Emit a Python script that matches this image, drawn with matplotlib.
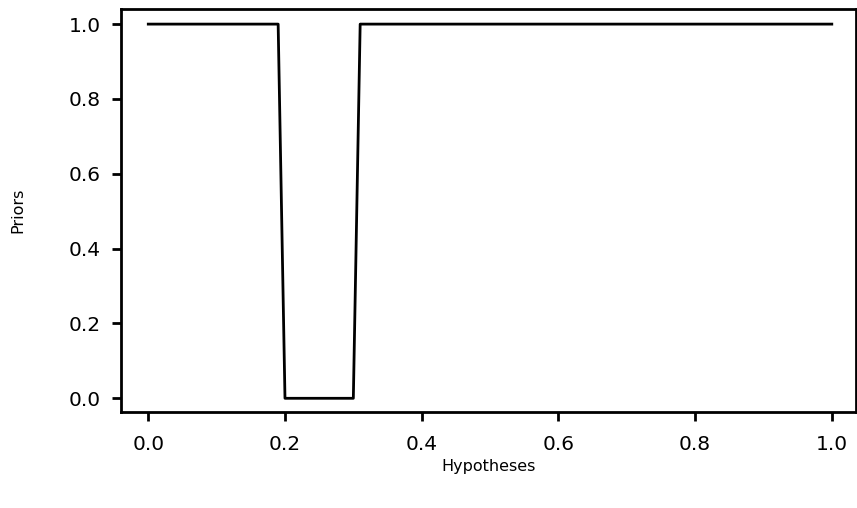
import matplotlib
matplotlib.use("Agg")
import matplotlib.pyplot as plt

# hypotheses grid (0.00 .. 1.00 in steps of 0.01); prior is flat except 0.20-0.30 set to zero
hypotheses = [0.0, 0.19, 0.20, 0.30, 0.31, 1.0]
priors = [1.0, 1.0, 0.0, 0.0, 1.0, 1.0]

plt.rcParams["font.family"] = ["DejaVu Sans"]

fig = plt.figure(figsize=(8.57, 5.08), dpi=100)
ax = fig.add_axes([0.1408, 0.1884, 0.8577, 0.7936])

ax.plot(hypotheses, priors, color="black", linewidth=2.0)

ax.set_xlim(-0.0404, 1.035)
ax.set_ylim(-0.0374, 1.04)
ax.set_xticks([0.0, 0.2, 0.4, 0.6, 0.8, 1.0])
ax.set_yticks([0.0, 0.2, 0.4, 0.6, 0.8, 1.0])
ax.set_xticklabels(["0.0", "0.2", "0.4", "0.6", "0.8", "1.0"])
ax.set_yticklabels(["0.0", "0.2", "0.4", "0.6", "0.8", "1.0"])

for s in ax.spines.values():
    s.set_linewidth(2.0)
ax.tick_params(direction="out", length=6.5, width=2.0, labelsize=14.5, pad=8)
ax.tick_params(axis="x", pad=9.5)

ax.set_xlabel("Hypotheses", fontsize=11.5, labelpad=4)
ax.set_ylabel("Priors", fontsize=11.5, labelpad=31)

fig.savefig("out.png", dpi=100)
